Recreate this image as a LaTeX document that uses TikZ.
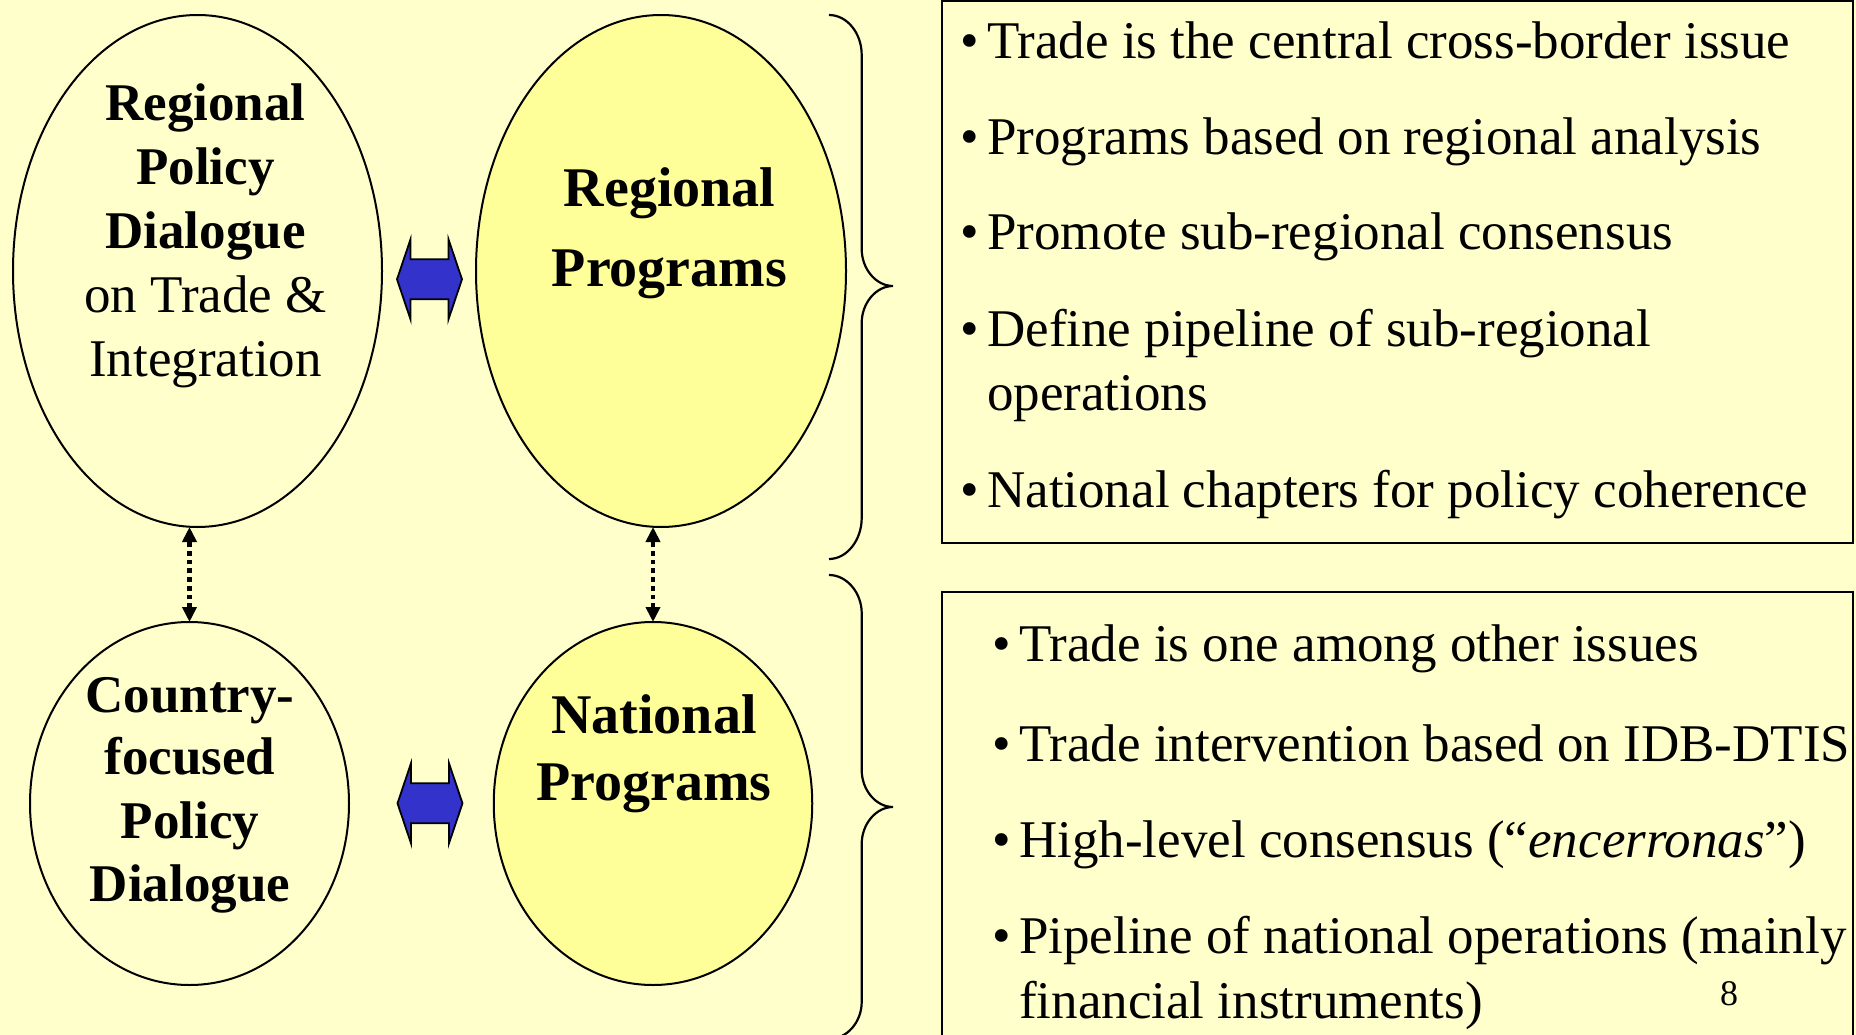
\documentclass[tikz,border=0pt]{standalone}
\usepackage{fontspec}
\setmainfont{Liberation Serif}
\usetikzlibrary{arrows.meta,shapes.geometric}
\definecolor{bg}{HTML}{FFFFCC}
\definecolor{yel}{HTML}{FFFF99}
\definecolor{blu}{HTML}{3333CC}
\begin{document}
\begin{tikzpicture}[x=1pt,y=-1pt,
  ell/.style={ellipse, draw=black, line width=2pt, inner sep=0pt, outer sep=0pt},
  eltxt/.style={anchor=base, inner sep=0pt, font=\fontsize{53}{64}\selectfont},
  bigtxt/.style={anchor=base, inner sep=0pt, font=\fontsize{56}{66}\selectfont\bfseries},
  boxtxt/.style={anchor=base west, inner sep=0pt, font=\fontsize{53}{64}\selectfont},
  bul/.style={anchor=base, inner sep=0pt, font=\fontsize{53}{64}\selectfont},
  dotarrow/.style={line width=4.3pt, dash pattern=on 4.7pt off 4pt,
     {Triangle[length=15pt,width=14pt]}-{Triangle[length=15pt,width=14pt]}},
  bracepath/.style={draw=black, line width=2.2pt},
  panel/.style={draw=black, line width=2.2pt},
  bluearrow/.style={draw=black, fill=blu, line width=1.8pt, line join=miter}
]
\useasboundingbox (0,0) rectangle (1856,1035);
\fill[bg] (0,0) rectangle (1856,1035);
\clip (0,0) rectangle (1856,1035);

% ellipses
\node[ell, fill=bg, minimum width=369pt, minimum height=512pt] (rpd) at (197.5,271) {};
\node[ell, fill=yel, minimum width=370pt, minimum height=512pt] (rp) at (661,271) {};
\node[ell, fill=bg, minimum width=319pt, minimum height=363pt] (cpd) at (189.5,803.5) {};
\node[ell, fill=yel, minimum width=318.5pt, minimum height=363pt] (np) at (653,803.5) {};

% ellipse texts
\node[eltxt] (a1) at (205.5,121) {\bfseries Regional};
\node[eltxt] (a2) at (205.5,185) {\bfseries Policy};
\node[eltxt] (a3) at (205.5,249) {\bfseries Dialogue};
\node[eltxt] (a4) at (205.5,312.5) {on Trade \&};
\node[eltxt] (a5) at (205.5,376) {Integration};

\node[bigtxt] (b1) at (669.5,207) {Regional};
\node[bigtxt] (b2) at (669.5,287) {Programs};

\node[eltxt] (c1) at (190,712) {\bfseries Country-};
\node[eltxt] (c2) at (190,774) {\bfseries focused};
\node[eltxt] (c3) at (190,838) {\bfseries Policy};
\node[eltxt] (c4) at (190,901) {\bfseries Dialogue};

\node[bigtxt] (d1) at (654,733.5) {National};
\node[bigtxt] (d2) at (654,800) {Programs};

% dotted vertical connectors
\draw[dotarrow] (cpd.north) -- (cpd.north |- rpd.south);
\draw[dotarrow] (np.north) -- (np.north |- rp.south);

% blue double arrows
\coordinate (m1) at (429.5,279.3);
\coordinate (m2) at (430,803.3);
\foreach \m in {m1,m2}{
  \draw[bluearrow] ([shift={(-32.5,0)}]\m) -- ([shift={(-19,-40)}]\m) -- ([shift={(-19,-20)}]\m)
    -- ([shift={(19,-20)}]\m) -- ([shift={(19,-40)}]\m) -- ([shift={(32.5,0)}]\m)
    -- ([shift={(19,40)}]\m) -- ([shift={(19,20)}]\m) -- ([shift={(-19,20)}]\m)
    -- ([shift={(-19,40)}]\m) -- cycle;
}

% braces
\draw[bracepath] (829,15) .. controls (847,15) and (861.7,33) .. (861.7,55)
  -- (861.7,249) .. controls (861.7,269) and (876,286) .. (893,286)
  .. controls (876,286) and (861.7,303) .. (861.7,323)
  -- (861.7,518) .. controls (861.7,540) and (847,559) .. (829,559);
\draw[bracepath] (829,575) .. controls (847,575) and (861.7,593) .. (861.7,613)
  -- (861.7,770) .. controls (861.7,790) and (876,807) .. (893,807)
  .. controls (876,807) and (861.7,824) .. (861.7,844)
  -- (861.7,1002) .. controls (861.7,1022) and (847,1039) .. (829,1039);

% panels
\draw[panel] (942,0.5) rectangle (1853,542.7);
\draw[panel] (942,591.7) rectangle (1853,1045);

% panel 1 text
\node[bul] (p1b) at (970,59) {•};
\node[boxtxt] (p1) at (987,59) {Trade is the central cross-border issue};
\node[bul] (p2b) at (970,155) {•};
\node[boxtxt] (p2) at (987,155) {Programs based on regional analysis};
\node[bul] (p3b) at (970,250) {•};
\node[boxtxt] (p3) at (987,250) {Promote sub-regional consensus};
\node[bul] (p4b) at (970,346) {•};
\node[boxtxt] (p4) at (987,346) {Define pipeline of sub-regional};
\node[boxtxt] (p4c) at (987,410) {operations};
\node[bul] (p5b) at (970,507) {•};
\node[boxtxt] (p5) at (987,507) {National chapters for policy coherence};

% panel 2 text
\node[bul] (q1b) at (1002,661) {•};
\node[boxtxt] (q1) at (1019,661) {Trade is one among other issues};
\node[bul] (q2b) at (1002,761) {•};
\node[boxtxt] (q2) at (1019,761) {Trade intervention based on IDB-DTIS};
\node[bul] (q3b) at (1002,857) {•};
\node[boxtxt] (q3) at (1019,857) {High-level consensus (“\textit{encerronas}”)};
\node[bul] (q4b) at (1002,953) {•};
\node[boxtxt] (q4) at (1019,953) {Pipeline of national operations (mainly};
\node[boxtxt] (q4c) at (1019,1018) {financial instruments)};

\node[anchor=base, inner sep=0pt, font=\fontsize{36}{42}\selectfont] (pg) at (1729,1005) {8};
\end{tikzpicture}
\end{document}
